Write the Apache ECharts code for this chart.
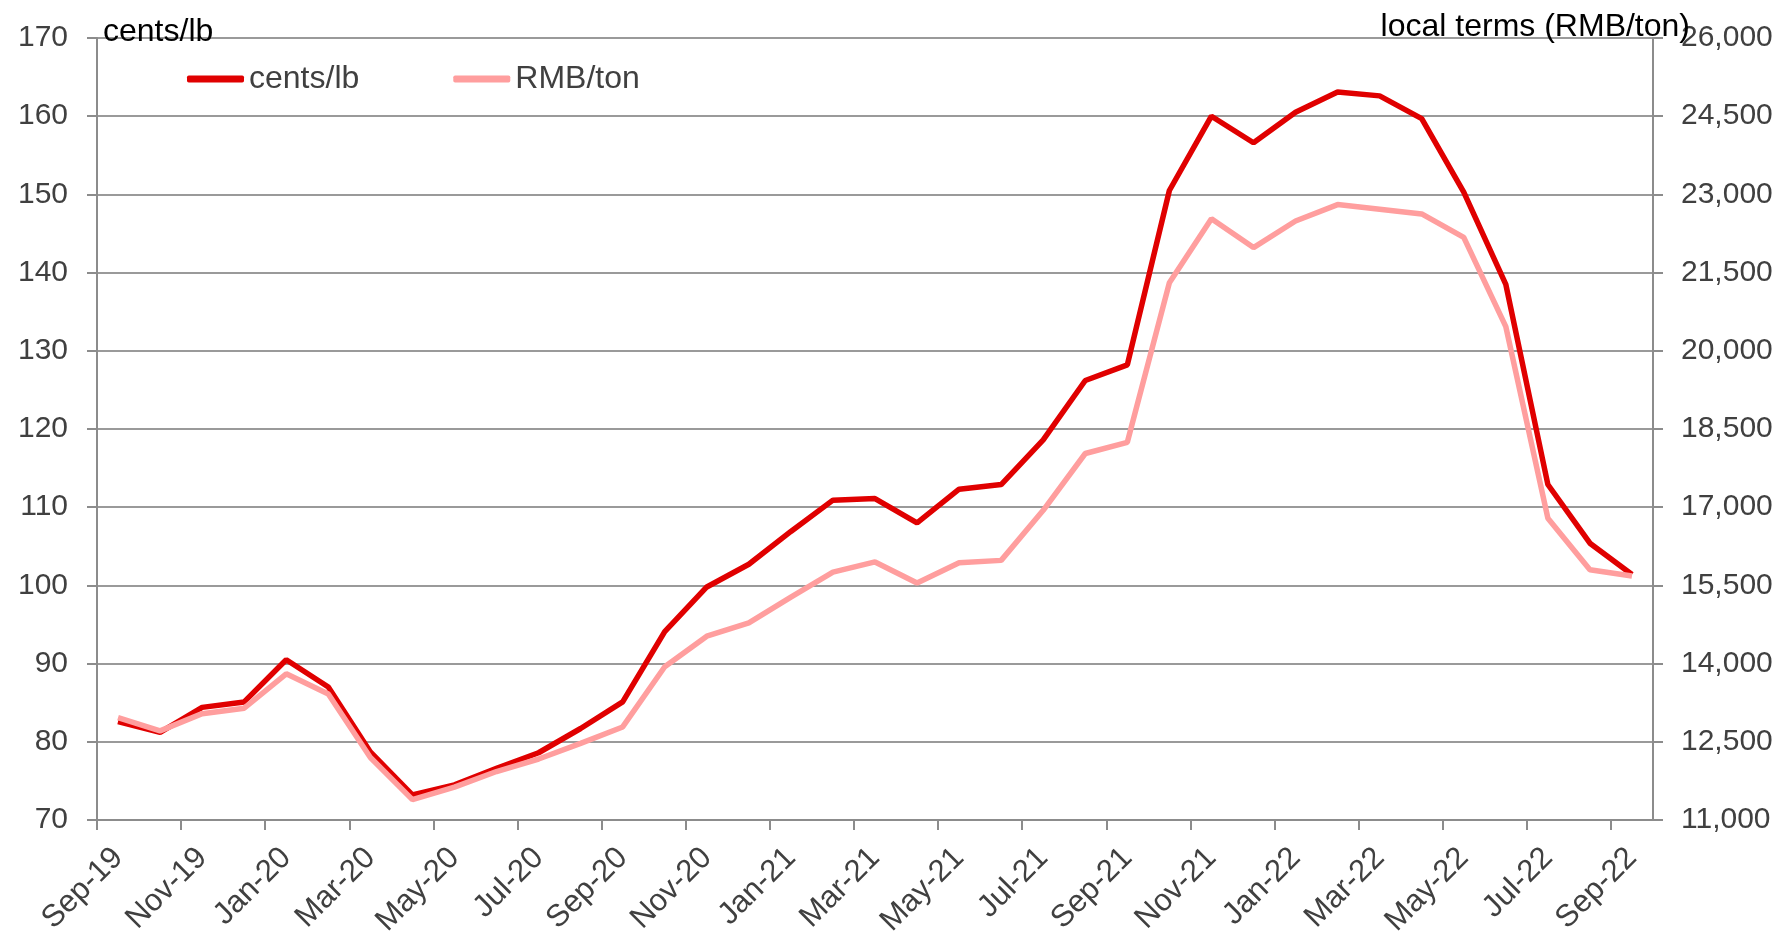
<!DOCTYPE html>
<html>
<head>
<meta charset="utf-8">
<script src="https://cdn.jsdelivr.net/npm/echarts@6/dist/echarts.min.js"></script>
<style>
  html, body { margin: 0; padding: 0; background: #fff; }
  #main { width: 1791px; height: 940px; }
</style>
</head>
<body>
<div id="main"></div>
<script>
// monthly, Sep-19 .. Sep-22
const months = ['Sep-19', 'Oct-19', 'Nov-19', 'Dec-19', 'Jan-20', 'Feb-20', 'Mar-20', 'Apr-20', 'May-20',
  'Jun-20', 'Jul-20', 'Aug-20', 'Sep-20', 'Oct-20', 'Nov-20', 'Dec-20', 'Jan-21', 'Feb-21', 'Mar-21',
  'Apr-21', 'May-21', 'Jun-21', 'Jul-21', 'Aug-21', 'Sep-21', 'Oct-21', 'Nov-21', 'Dec-21', 'Jan-22',
  'Feb-22', 'Mar-22', 'Apr-22', 'May-22', 'Jun-22', 'Jul-22', 'Aug-22', 'Sep-22']

const centsLb = [82.6, 81.2, 84.4, 85.1, 90.5, 87.0, 78.7, 73.2, 74.5, 76.6, 78.6, 81.7, 85.1,
  94.1, 99.8, 102.7, 106.9, 110.9, 111.1, 108.0, 112.3, 112.9, 118.6, 126.2, 128.2,
  150.5, 160.0, 156.6, 160.5, 163.1, 162.6, 159.7, 150.3, 138.5, 112.9, 105.4, 101.4]

const rmbTon = [12965, 12710, 13040, 13145, 13805, 13415, 12200, 11390, 11630, 11930, 12170, 12470, 12785,
  13940, 14525, 14780, 15275, 15755, 15950, 15545, 15935, 15980, 16940, 18030, 18245,
  21305, 22535, 21980, 22490, 22805, 22715, 22625, 22175, 20465, 16790, 15800, 15680]

const rightTicks = [11000, 12500, 14000, 15500, 17000, 18500, 20000, 21500, 23000, 24500, 26000]
// ticks sit between months, labels (every 2nd month) sit on the month itself
const tickIdx = months.map((m, i) => i).filter(i => i % 2 === 0)
const labelPos = tickIdx.map(i => i + 0.5)

const chart = echarts.init(document.getElementById('main'))
const axisGray = '#8c8c8c'
const labelFont = 'Liberation Sans'

const option = {
  animation: false,
  textStyle: { fontFamily: labelFont },
  title: [
    { text: 'cents/lb', left: 98, top: 11, textStyle: { fontSize: 32, fontWeight: 'normal', color: '#000', fontFamily: labelFont } },
    { text: 'local terms (RMB/ton)', right: 96, top: 6, textStyle: { fontSize: 32, fontWeight: 'normal', color: '#000', fontFamily: labelFont } }
  ],
  legend: {
    left: 182,
    top: 58,
    itemWidth: 57,
    itemHeight: 7,
    itemGap: 94,
    icon: 'roundRect',
    textStyle: { fontSize: 32, color: '#404040', fontFamily: labelFont },
    data: ['cents/lb', 'RMB/ton']
  },
  grid: { left: 97, right: 138, top: 38, bottom: 120 },
  xAxis: {
    type: 'value',
    min: 0,
    max: months.length,
    axisLine: { onZero: false, lineStyle: { color: axisGray, width: 2 } },
    axisTick: { customValues: tickIdx, length: 10, lineStyle: { color: axisGray, width: 2 } },
    splitLine: { show: false },
    axisLabel: {
      customValues: labelPos,
      formatter: v => months[Math.round(v - 0.5)] || '',
      rotate: 45,
      margin: 33,
      fontSize: 31,
      color: '#404040',
      fontFamily: labelFont
    }
  },
  yAxis: [
    {
      type: 'value',
      min: 70,
      max: 170,
      interval: 10,
      axisLine: { show: true, lineStyle: { color: axisGray, width: 2 } },
      axisTick: { show: true, length: 10, lineStyle: { color: axisGray, width: 2 } },
      splitLine: { lineStyle: { color: '#9a9a9a', width: 2 } },
      axisLabel: { fontSize: 30, color: '#404040', margin: 29, fontFamily: labelFont }
    },
    {
      type: 'value',
      min: 11000,
      max: 26000,
      position: 'right',
      axisLine: { show: true, lineStyle: { color: axisGray, width: 2 } },
      axisTick: { show: true, customValues: rightTicks, length: 10, lineStyle: { color: axisGray, width: 2 } },
      splitLine: { show: false },
      axisLabel: {
        customValues: rightTicks,
        fontSize: 30,
        color: '#404040',
        margin: 28,
        fontFamily: labelFont,
        formatter: v => v.toLocaleString('en-US')
      }
    }
  ],
  series: [
    {
      name: 'cents/lb',
      type: 'line',
      yAxisIndex: 0,
      symbol: 'none',
      color: '#e00000',
      lineStyle: { width: 5.5, color: '#e00000' },
      data: centsLb.map((v, i) => [i + 0.5, v])
    },
    {
      name: 'RMB/ton',
      type: 'line',
      yAxisIndex: 1,
      symbol: 'none',
      color: '#ff9e9e',
      lineStyle: { width: 5.5, color: '#ff9e9e' },
      data: rmbTon.map((v, i) => [i + 0.5, v])
    }
  ]
}

chart.setOption(option)
</script>
</body>
</html>
